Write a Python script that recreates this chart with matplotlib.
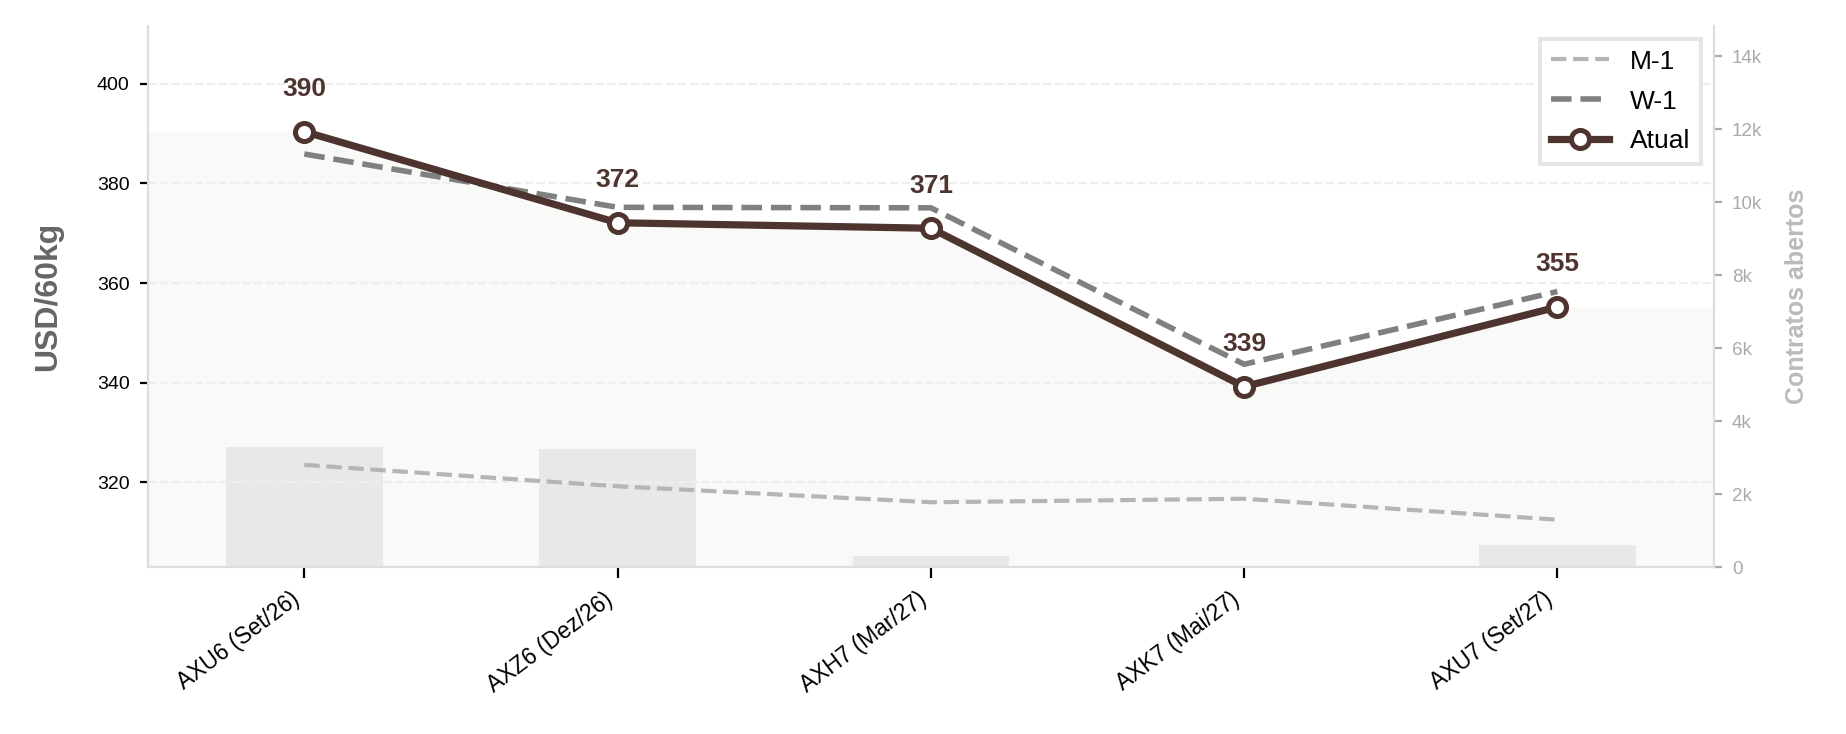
import matplotlib
matplotlib.use("Agg")
import matplotlib.pyplot as plt
import numpy as np

plt.rcParams["font.family"] = ["Liberation Sans", "DejaVu Sans"]

# contratos e valores
contratos = ["AXU6 (Set/26)", "AXZ6 (Dez/26)", "AXH7 (Mar/27)", "AXK7 (Mai/27)", "AXU7 (Set/27)"]
atual = [390.4, 372.1, 371.0, 339.2, 355.2]
w1 = [385.9, 375.2, 375.1, 343.7, 358.3]
m1 = [323.5, 319.2, 316.0, 316.7, 312.5]
open_int = [3297, 3242, 310, 0, 612]

brown = "#4e342e"

x = np.arange(len(contratos))

fig, ax = plt.subplots(figsize=(9.23, 3.67), dpi=200)
fig.subplots_adjust(left=0.080, right=0.9285, top=0.9646, bottom=0.2275)

# eixo secundario - open interest
ax2 = ax.twinx()
ax2.bar(x, open_int, width=0.5, color="#e8e8e8", zorder=1)
oi_top = max(open_int) * 4.5
ax2.set_ylim(0, oi_top)
ax2.set_yticks(np.arange(0, 14001, 2000))
ax2.set_yticklabels(["0"] + [f"{int(v/1000)}k" for v in np.arange(2000, 14001, 2000)])
ax2.tick_params(axis="y", colors="#aaaaaa", labelsize=6.8, length=3)
ax2.set_ylabel("Contratos abertos", color="#bbbbbb", fontsize=9, fontweight="bold", labelpad=8)
ax2.set_zorder(1)
ax.set_zorder(2)
ax.patch.set_visible(False)

ymin, ymax = 303, 411.6
ax.set_ylim(ymin, ymax)
ax.set_xlim(-0.5, 4.5)

# area sob a curva atual
x_fill = np.concatenate([[-0.5], x, [4.5]])
y_fill = np.concatenate([[atual[0]], atual, [atual[-1]]])
ax2.fill_between(x_fill, np.interp(y_fill, [ymin, ymax], [0, oi_top]), 0,
                 color="#f9f9f7", zorder=0, lw=0)

ax.plot(x, m1, color="#b5b5b5", lw=1.5, ls="--", label="M-1", zorder=3)
ax.plot(x, w1, color="#808080", lw=2, ls="--", label="W-1", zorder=3)
ax.plot(x, atual, color=brown, lw=2.6, marker="o", markersize=6.5,
        markerfacecolor="white", markeredgecolor=brown, markeredgewidth=1.8,
        label="Atual", zorder=4)

for xi, v in zip(x, atual):
    ax.annotate(f"{v:.0f}", (xi, v), xytext=(0, 11), textcoords="offset points",
                ha="center", va="bottom", fontsize=9.5, fontweight="bold", color=brown)

ax.set_yticks([320, 340, 360, 380, 400])
ax.tick_params(axis="y", labelsize=7, length=3)
ax.set_xticks(x)
ax.set_xticklabels(contratos, rotation=37, ha="right", fontsize=8.2)
ax.tick_params(axis="x", length=4)
ax.grid(axis="y", color="#eeeeee", ls="--", lw=0.8)
ax.set_ylabel("USD/60kg", color="#666666", fontsize=11.5, fontweight="bold", labelpad=12)

for a in (ax, ax2):
    a.spines["top"].set_visible(False)
    for s in ("left", "right", "bottom"):
        a.spines[s].set_color("#dddddd")
ax.spines["right"].set_visible(False)
ax2.spines["left"].set_visible(False)
ax2.spines["bottom"].set_visible(False)

leg = ax.legend(loc="upper right", fontsize=9.5, fancybox=False, framealpha=1,
                handlelength=2.2, borderaxespad=0.5, labelspacing=0.6)
leg.get_frame().set_edgecolor("#e5e5e5")
leg.get_frame().set_linewidth(1.4)

fig.savefig("out.png", dpi=200)
